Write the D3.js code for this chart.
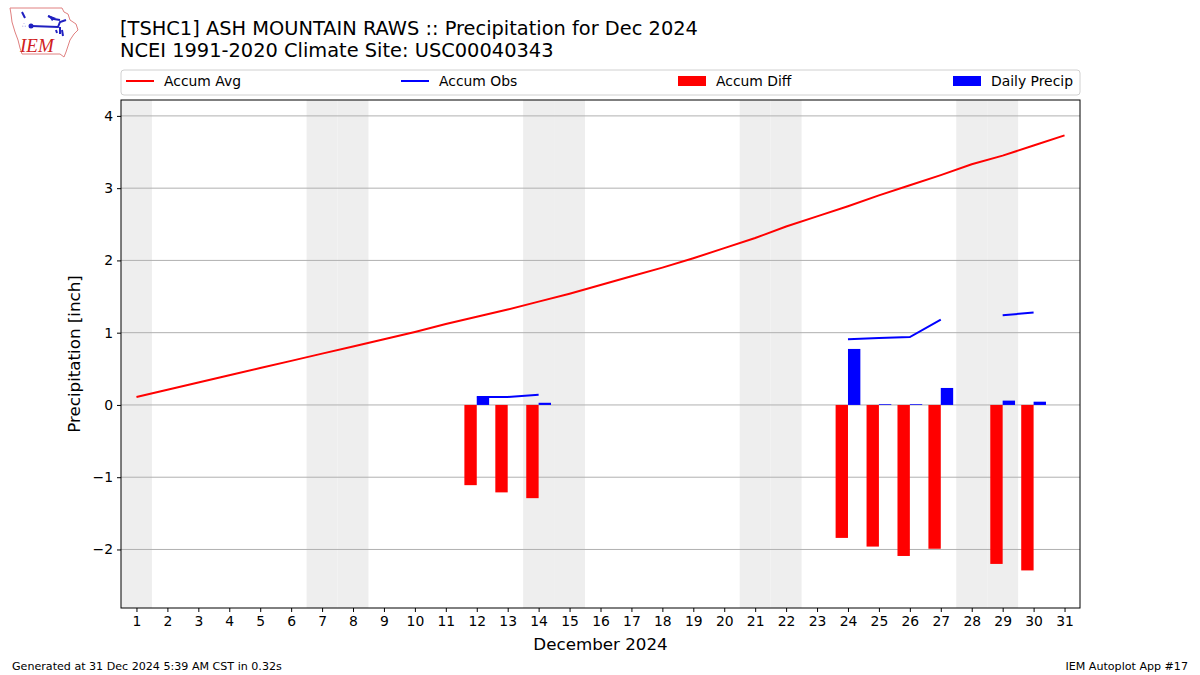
<!DOCTYPE html>
<html><head><meta charset="utf-8">
<script src="https://cdn.jsdelivr.net/npm/d3@7"></script>
<style>body{margin:0;background:#fff}svg{display:block;font-family:"DejaVu Sans",sans-serif}</style>
</head><body><svg id="c" width="1200" height="675"></svg>
<script>
const days = d3.range(1, 32);
const accumAvg = [0.11,0.21,0.31,0.41,0.51,0.61,0.71,0.81,0.91,1.01,1.12,1.22,1.32,1.43,1.54,1.66,1.78,1.90,2.03,2.17,2.31,2.47,2.61,2.75,2.90,3.04,3.18,3.33,3.45,3.59,3.73];
const accumObs = [null,null,null,null,null,null,null,null,null,null,null,0.11,0.11,0.14,null,null,null,null,null,null,null,null,null,0.91,0.925,0.94,1.18,null,1.24,1.28,null];
const accumDiff = [null,null,null,null,null,null,null,null,null,null,null,-1.11,-1.21,-1.29,null,null,null,null,null,null,null,null,null,-1.84,-1.96,-2.09,-1.99,null,-2.20,-2.29,null];
const dailyPrecip = [null,null,null,null,null,null,null,null,null,null,null,0.10,0,0.03,null,null,null,null,null,null,null,null,null,0.775,0.01,0.01,0.235,null,0.06,0.045,null];
const weekendDays = [1,7,8,14,15,21,22,28,29];
const yTicks = [-2,-1,0,1,2,3,4];
const titleLines = ["[TSHC1] ASH MOUNTAIN RAWS :: Precipitation for Dec 2024","NCEI 1991-2020 Climate Site: USC00040343"];
const legendItems = [{label:"Accum Avg",type:"line",color:"red"},{label:"Accum Obs",type:"line",color:"blue"},{label:"Accum Diff",type:"rect",color:"red"},{label:"Daily Precip",type:"rect",color:"blue"}];

const svg = d3.select("#c");
const L=121,R=1080,T=100,B=608;
const x = d3.scaleLinear().domain([0.5,31.5]).range([L,R]);
const y = d3.scaleLinear().domain([-2.81,4.22]).range([B,T]);

// weekend shading
svg.append("g").selectAll("rect").data(weekendDays).join("rect")
  .attr("x",d=>x(d-0.5)).attr("width",d=>x(d+0.5)-x(d-0.5))
  .attr("y",T).attr("height",B-T).attr("fill","#eeeeee");

// grid
svg.append("g").selectAll("line").data(yTicks).join("line")
  .attr("x1",L).attr("x2",R).attr("y1",d=>y(d)).attr("y2",d=>y(d))
  .attr("stroke","#b0b0b0").attr("stroke-width",1);

// bars
const rows = days.map((d,i)=>({d,avg:accumAvg[i],obs:accumObs[i],diff:accumDiff[i],daily:dailyPrecip[i]}));
svg.append("g").selectAll("rect").data(rows.filter(r=>r.diff!=null)).join("rect")
  .attr("x",r=>x(r.d-0.4)).attr("width",r=>x(r.d)-x(r.d-0.4))
  .attr("y",r=>y(Math.max(0,r.diff))).attr("height",r=>Math.abs(y(r.diff)-y(0)))
  .attr("fill","red");
svg.append("g").selectAll("rect").data(rows.filter(r=>r.daily!=null && r.daily>0)).join("rect")
  .attr("x",r=>x(r.d)).attr("width",r=>x(r.d+0.4)-x(r.d))
  .attr("y",r=>y(r.daily)).attr("height",r=>y(0)-y(r.daily))
  .attr("fill","blue");

// lines
svg.append("path").datum(rows).attr("fill","none").attr("stroke","red").attr("stroke-width",2)
  .attr("d",d3.line().x(r=>x(r.d)).y(r=>y(r.avg)));
svg.append("path").datum(rows).attr("fill","none").attr("stroke","blue").attr("stroke-width",2)
  .attr("d",d3.line().defined(r=>r.obs!=null).x(r=>x(r.d)).y(r=>y(r.obs)));

// axes
const xa = svg.append("g").attr("transform",`translate(0,${B})`)
  .call(d3.axisBottom(x).tickValues(days).tickFormat(d3.format("d")).tickSize(4).tickSizeOuter(0));
const ya = svg.append("g").attr("transform",`translate(${L},0)`)
  .call(d3.axisLeft(y).tickValues(yTicks).tickFormat(d=>d<0?"\u2212"+Math.abs(d):d).tickSize(4).tickSizeOuter(0));
[xa,ya].forEach(a=>{a.select(".domain").remove();a.selectAll("text").attr("font-family","DejaVu Sans").attr("font-size",13.9).attr("fill","#000");a.selectAll("line").attr("stroke","#000");});
xa.selectAll("text").attr("dy","0.71em").attr("y",8);
ya.selectAll("text").attr("x",-8);
svg.append("rect").attr("x",L).attr("y",T).attr("width",R-L).attr("height",B-T).attr("fill","none").attr("stroke","#000").attr("stroke-width",1);

svg.append("text").attr("x",(L+R)/2).attr("y",650).attr("text-anchor","middle").attr("font-size",16.7).text("December 2024");
svg.append("text").attr("transform",`translate(80,${(T+B)/2}) rotate(-90)`).attr("text-anchor","middle").attr("font-size",16.7).text("Precipitation [inch]");

// titles
svg.append("g").selectAll("text").data(titleLines).join("text")
  .attr("x",120).attr("y",(d,i)=>35+i*22).attr("font-size",19.4).text(d=>d);

// legend
const lg = svg.append("g");
lg.append("rect").attr("x",L).attr("y",70).attr("width",R-L).attr("height",25).attr("rx",3)
  .attr("fill","#fff").attr("stroke","#d0d0d0");
const lx = [126,401,678,953];
legendItems.forEach((it,i)=>{
  if(it.type==="line") lg.append("line").attr("x1",lx[i]).attr("x2",lx[i]+28).attr("y1",81).attr("y2",81).attr("stroke",it.color).attr("stroke-width",2);
  else lg.append("rect").attr("x",lx[i]).attr("y",76).attr("width",28).attr("height",10).attr("fill",it.color);
  lg.append("text").attr("x",lx[i]+38).attr("y",86).attr("font-size",13.9).text(it.label);
});

// footer
svg.append("text").attr("x",12).attr("y",670).attr("font-size",11.1).text("Generated at 31 Dec 2024 5:39 AM CST in 0.32s");
svg.append("text").attr("x",1188).attr("y",670).attr("text-anchor","end").attr("font-size",11.1).text("IEM Autoplot App #17");

// logo
const lgo = svg.append("g");
lgo.append("path").attr("d","M10,8 L62,8 L64,12 L68,14 L70,20 L76,24 L78,30 L74,34 L70,40 L68,46 L66,52 L64,57 L60,54 L22,54 L20,48 L18,40 L15,32 L12,22 L11,14 Z")
  .attr("fill","none").attr("stroke","#e08080").attr("stroke-width",1);
lgo.append("path").attr("d","M22,12 L25,18 M31,26 L58,27 L60,22 L66,20 M48,16 L54,19 L60,20 M60,27 L60,34 M62,30 L63,36 M56,30 L57,33")
  .attr("stroke","#2020c0").attr("stroke-width",2).attr("fill","none");
lgo.append("path").attr("d","M48,15 L56,18 L52,21 Z").attr("fill","#2020c0");
lgo.append("circle").attr("cx",31).attr("cy",26).attr("r",2.5).attr("fill","#2020c0");
lgo.append("text").attr("x",22).attr("y",27).attr("font-size",6).attr("fill","#2020c0").text("∴");
lgo.append("text").attr("x",20).attr("y",52).attr("font-family","Liberation Serif").attr("font-style","italic").attr("font-size",19).attr("fill","#d02020").text("IEM");
</script></body></html>
